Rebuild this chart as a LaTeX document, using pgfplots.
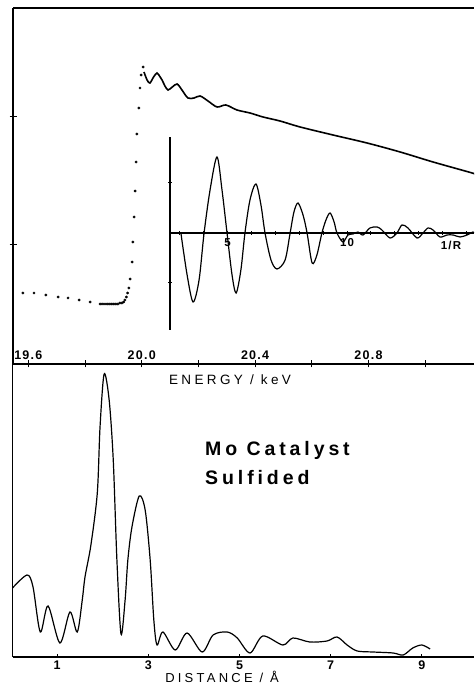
\documentclass[border=0pt]{standalone}
\usepackage{fontspec}
\setmainfont{Liberation Sans}
\newfontfamily\spaced[LetterSpace=25]{Liberation Sans}
\newfontfamily\tickfont[LetterSpace=10]{Liberation Sans}
\newfontfamily\titlefont[LetterSpace=20]{Liberation Sans}
\usepackage{pgfplots}
\pgfplotsset{compat=1.18}

\pgfplotsset{
  panel/.style={
    scale only axis, anchor=south west,
    tick style={line width=1pt, black},
    major tick length=5pt, tick align=inside,
    /pgf/number format/assume math mode=true,
    ticklabel style={font=\tickfont\bfseries\fontsize{12.5}{12.5}\selectfont},
  },
  noarrows/.style={
    axis line style={-, line width=1.2pt},
    every inner x axis line/.append style={-},
    every outer x axis line/.append style={-},
    every inner y axis line/.append style={-},
    every outer y axis line/.append style={-},
  },
}

\begin{document}
\begin{tikzpicture}
% top panel: absorption vs energy
\begin{axis}[panel,
  at={(13pt,323pt)}, width=461pt, height=356pt,
  xmin=19.5459, xmax=21.1725, ymin=0, ymax=356,
  axis x line=box, axis y line=left,
  xtick pos=bottom, ytick pos=left,
  tick align=center, major tick length=7pt,
  xtick={19.6,19.8,20.0,20.2,20.4,20.6,20.8,21.0},
  xticklabels={19.6,,20.0,,20.4,,20.8,},
  xticklabel style={anchor=south, yshift=4pt},
  ytick={119,247}, yticklabels={},
  xlabel={ENERGY / keV},
  xlabel style={at={(axis description cs:0.4707,-0.045)}, anchor=center,
    font=\spaced\fontsize{13.5}{13.5}\selectfont},
  noarrows,
]
\addplot[only marks, mark=*, mark size=1.2pt, black] coordinates {
 (19.581,71) (19.620,71) (19.662,69) (19.705,67) (19.740,66) (19.779,64)
 (19.818,62) (19.853,60) (19.860,60) (19.867,60) (19.874,60) (19.881,60)
 (19.888,60) (19.895,60) (19.902,60) (19.909,60) (19.916,60) (19.923,61)
 (19.930,61) (19.936,62) (19.941,64) (19.946,67) (19.950,71) (19.955,76)
 (19.959,85) (19.966,102) (19.969,122) (19.973,147) (19.977,173)
 (19.980,202) (19.983,230) (19.990,256) (19.994,276) (19.998,289) (20.005,297)
};
\addplot[black, line width=1.6pt, smooth] coordinates {
 (20.008,292) (20.019,284) (20.029,281) (20.042,287) (20.054,291) (20.065,287)
 (20.072,284) (20.082,278) (20.093,274) (20.108,277) (20.125,280) (20.142,274)
 (20.163,266) (20.185,266) (20.206,268) (20.234,263) (20.266,257) (20.297,259)
 (20.336,254) (20.382,251) (20.428,247) (20.488,243) (20.559,237) (20.675,229)
 (20.795,221) (20.912,212) (21.028,202) (21.166,191) (21.173,190)
};
\end{axis}

% inset: EXAFS chi(k)
\begin{axis}[panel,
  at={(170pt,357pt)}, width=304pt, height=193pt,
  xmin=2.594, xmax=15.314, ymin=-97, ymax=96,
  axis x line=middle, axis y line=left,
  major tick length=4pt, tick align=center,
  xtick={3,4,5,6,7,8,9,10,11,12,13,14,15},
  xticklabels={,,5,,,,,10,,,,,},
  ytick={-50,50}, yticklabels={},
  ticklabel style={font=\tickfont\bfseries\fontsize{11.5}{11.5}\selectfont},
  noarrows,
]
\addplot[black, line width=1.2pt, smooth] coordinates {
 (3.05,0) (3.31,-42) (3.56,-69) (3.81,-47) (4.02,0) (4.27,43) (4.56,76)
 (4.77,43) (4.98,0) (5.19,-42) (5.36,-60) (5.56,-37) (5.73,0) (5.94,33)
 (6.19,49) (6.40,28) (6.57,0) (6.82,-27) (7.07,-36) (7.41,-27) (7.62,0)
 (7.78,21) (7.95,30) (8.16,18) (8.33,0) (8.54,-30) (8.74,-22) (8.95,0)
 (9.12,13) (9.29,20) (9.46,11) (9.58,0) (9.83,-9) (10.04,-2) (10.25,-1)
 (10.46,1) (10.67,-2) (10.96,5) (11.26,6) (11.46,3) (11.80,-5) (12.09,0)
 (12.30,8) (12.55,5) (12.93,-5) (13.18,0) (13.39,5) (13.60,3) (13.89,-4)
 (14.18,-2) (14.44,-2) (14.73,-4) (15.02,-2) (15.27,1) (15.31,0)
};
\node[font=\tickfont\bfseries\fontsize{11.5}{11.5}\selectfont, anchor=north]
  at (axis cs:14.35,-5) {1/R};
\end{axis}

% bottom panel: radial distribution
\begin{axis}[panel,
  at={(12.5pt,30pt)}, width=461.5pt, height=293pt,
  xmin=0.02, xmax=10.143, ymin=0, ymax=293,
  axis x line=box, axis y line=left,
  xtick pos=bottom, ytick=\empty,
  xtick={1,3,5,7,9},
  major tick length=3pt,
  xlabel={DISTANCE / Å},
  xlabel style={at={(axis description cs:0.454,-0.068)}, anchor=center,
    inner sep=1pt, font=\spaced\fontsize{13}{13}\selectfont},
  noarrows,
]
\addplot[black, line width=1.2pt, smooth] coordinates {
 (0.02,69) (0.34,82) (0.47,70) (0.63,25) (0.80,51) (1.06,14) (1.28,45)
 (1.44,25) (1.55,57) (1.61,80) (1.74,112) (1.88,164) (1.94,230) (2.03,283)
 (2.14,257) (2.23,197) (2.31,97) (2.40,23) (2.49,57) (2.55,97) (2.64,130)
 (2.80,161) (2.93,147) (3.04,97) (3.12,37) (3.19,12) (3.32,25) (3.59,7)
 (3.85,24) (4.18,5) (4.42,22) (4.73,25) (4.95,19) (5.23,4) (5.51,21)
 (5.95,12) (6.17,19) (6.54,15) (6.92,16) (7.14,20) (7.36,12) (7.58,6)
 (7.93,5) (8.37,4) (8.59,2) (8.80,9) (9.00,12) (9.18,8)
};
\node[anchor=base west, inner sep=0pt,
  font=\titlefont\bfseries\fontsize{19.5}{19.5}\selectfont]
  at (axis cs:4.243,201) {Mo Catalyst};
\node[anchor=base west, inner sep=0pt,
  font=\titlefont\bfseries\fontsize{19.5}{19.5}\selectfont]
  at (axis cs:4.243,172) {Sulfided};
\end{axis}

\pgfresetboundingbox
\path[use as bounding box] (0,0) rectangle (474pt,687pt);
\end{tikzpicture}
\end{document}
